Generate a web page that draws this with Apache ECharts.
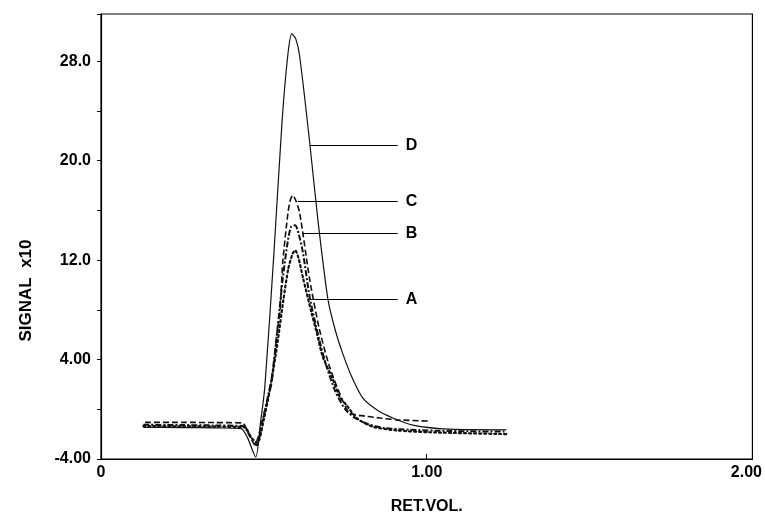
<!DOCTYPE html>
<html style="height: 100%">
<head>
    <meta charset="utf-8" />
    <title>SIGNAL vs RET.VOL.</title>
    <script src="https://cdn.jsdelivr.net/npm/echarts@6/dist/echarts.min.js"></script>
</head>
<body style="height: 100%; margin: 0; overflow: hidden; background: #fff">
    <div id="container" style="width: 765px; height: 520px"></div>
    <script>
        // curve data: [ret.vol, signal x10]
        var curveA = [
            [0.13, -1.35], [0.25, -1.37], [0.35, -1.4], [0.44, -1.45], [0.462, -2.3], [0.48, -2.7],
            [0.5, -0.8], [0.52, 1.8], [0.54, 5.0], [0.56, 8.8], [0.575, 11.3], [0.588, 12.5],
            [0.596, 12.8], [0.606, 12.2], [0.62, 10.6], [0.647, 7.7], [0.663, 6.1], [0.681, 4.2],
            [0.709, 2.6], [0.733, 1.0], [0.755, 0.3], [0.785, -0.7], [0.834, -1.4], [0.908, -1.7],
            [1.01, -1.85], [1.245, -2.0]
        ];
        var curveB = [
            [0.13, -1.25], [0.25, -1.27], [0.35, -1.3], [0.435, -1.35], [0.458, -2.2], [0.478, -2.9],
            [0.495, -1.0], [0.509, 0.6], [0.524, 2.5], [0.54, 6.0], [0.558, 10.5], [0.574, 13.6],
            [0.584, 14.7], [0.596, 14.8], [0.607, 14.1], [0.62, 12.6], [0.641, 9.0], [0.67, 5.6],
            [0.693, 3.4], [0.72, 1.4], [0.75, 0.0], [0.78, -0.7], [0.82, -1.2], [0.87, -1.5],
            [0.95, -1.65], [1.07, -1.75], [1.245, -1.8]
        ];
        var curveC = [
            [0.135, -1.05], [0.25, -1.05], [0.35, -1.07], [0.433, -1.1], [0.455, -2.0], [0.472, -2.85],
            [0.49, -1.5], [0.509, 0.5], [0.524, 2.1], [0.54, 6.1], [0.549, 7.7], [0.558, 11.8],
            [0.574, 15.8], [0.582, 16.9], [0.589, 17.2], [0.598, 16.8], [0.61, 15.8], [0.641, 10.4],
            [0.67, 6.5], [0.702, 3.4], [0.742, 0.7], [0.764, -0.3], [0.81, -0.55], [0.856, -0.7],
            [0.908, -0.85], [1.01, -0.95]
        ];
        var curveD = [
            [0.13, -1.45], [0.25, -1.47], [0.35, -1.5], [0.43, -1.55], [0.45, -2.3], [0.475, -3.85],
            [0.49, -1.0], [0.503, 1.8], [0.531, 12.6], [0.556, 23.2], [0.574, 28.6], [0.586, 30.2],
            [0.598, 29.8], [0.61, 28.4], [0.641, 21.4], [0.666, 15.2], [0.697, 8.8], [0.72, 6.3],
            [0.742, 4.5], [0.77, 2.6], [0.804, 0.9], [0.85, -0.1], [0.896, -0.7], [0.957, -1.27],
            [1.07, -1.6], [1.245, -1.65]
        ];
        var curveNames = ["A", "B", "C", "D"];
        // leader line for each curve label: [x start, x end, signal]
        var leaders = [
            [0.641, 0.911, 8.86],
            [0.62, 0.911, 14.17],
            [0.604, 0.911, 16.74],
            [0.641, 0.911, 21.24]
        ];
        var xTicks = [0, 1, 2];
        var yLabelled = [-4, 4, 12, 20, 28];

        var dom = document.getElementById("container");
        var myChart = echarts.init(dom, null, { renderer: "canvas" });

        var styles = [
            { type: [2, 3], width: 2.2, cap: "round" },
            { type: [6, 2, 2, 2], width: 2 },
            { type: [6, 3], width: 1.6 },
            { type: "solid", width: 1.2 }
        ];
        var curves = [curveA, curveB, curveC, curveD];

        var series = curves.map(function (c, i) {
            var l = leaders[i];
            return {
                name: curveNames[i],
                type: "line",
                data: c,
                showSymbol: false,
                smooth: 0.25,
                lineStyle: {
                    color: "#111",
                    width: styles[i].width,
                    type: styles[i].type,
                    cap: styles[i].cap || "butt"
                },
                markLine: {
                    silent: true,
                    symbol: ["none", "none"],
                    lineStyle: { color: "#000", width: 1, type: "solid" },
                    label: {
                        show: true,
                        position: "end",
                        formatter: curveNames[i],
                        distance: 8,
                        color: "#000",
                        fontSize: 16,
                        fontWeight: "bold",
                        fontFamily: "Liberation Sans"
                    },
                    data: [[{ coord: [l[0], l[2]] }, { coord: [l[1], l[2]] }]]
                }
            };
        });

        var option = {
            animation: false,
            backgroundColor: "#fff",
            grid: {
                left: 101, right: 12, top: 14, bottom: 61,
                show: true, borderColor: "#000", borderWidth: 1.2
            },
            xAxis: {
                type: "value",
                min: 0, max: 2, interval: 1,
                name: "RET.VOL.",
                nameLocation: "middle",
                nameGap: 40,
                nameTextStyle: { color: "#000", fontSize: 16, fontWeight: "bold", fontFamily: "Liberation Sans" },
                axisLine: { onZero: false, lineStyle: { color: "#000", width: 1.2 } },
                axisTick: { inside: true, length: 5, lineStyle: { color: "#000" } },
                splitLine: { show: false },
                axisLabel: {
                    color: "#000", fontSize: 16, fontWeight: "bold", fontFamily: "Liberation Sans", margin: 6,
                    formatter: function (v) {
                        if (xTicks.indexOf(v) < 0) return "";
                        if (v === 0) return "0";
                        if (v === 2) return "{r|" + v.toFixed(2) + "}";
                        return v.toFixed(2);
                    },
                    rich: { r: { padding: [0, 12, 0, 0], fontSize: 16, fontWeight: "bold", fontFamily: "Liberation Sans", color: "#000" } }
                }
            },
            yAxis: {
                type: "value",
                min: -4, max: 31.8, interval: 4,
                name: "SIGNAL  x10",
                nameLocation: "middle",
                nameGap: 66,
                nameRotate: 90,
                nameTextStyle: {
                    color: "#000", fontSize: 17, fontWeight: "bold", fontFamily: "Liberation Sans",
                    padding: [0, 108, 0, 0]
                },
                axisLine: { onZero: false, lineStyle: { color: "#000", width: 1.2 } },
                axisTick: { length: 4, lineStyle: { color: "#000" } },
                splitLine: { show: false },
                axisLabel: {
                    color: "#000", fontSize: 16, fontWeight: "bold", fontFamily: "Liberation Sans", margin: 10,
                    formatter: function (v) {
                        if (yLabelled.indexOf(v) < 0) return "";
                        return Math.abs(v) < 10 ? v.toFixed(2) : v.toFixed(1);
                    }
                }
            },
            series: series
        };
        myChart.setOption(option);
    </script>
</body>
</html>
